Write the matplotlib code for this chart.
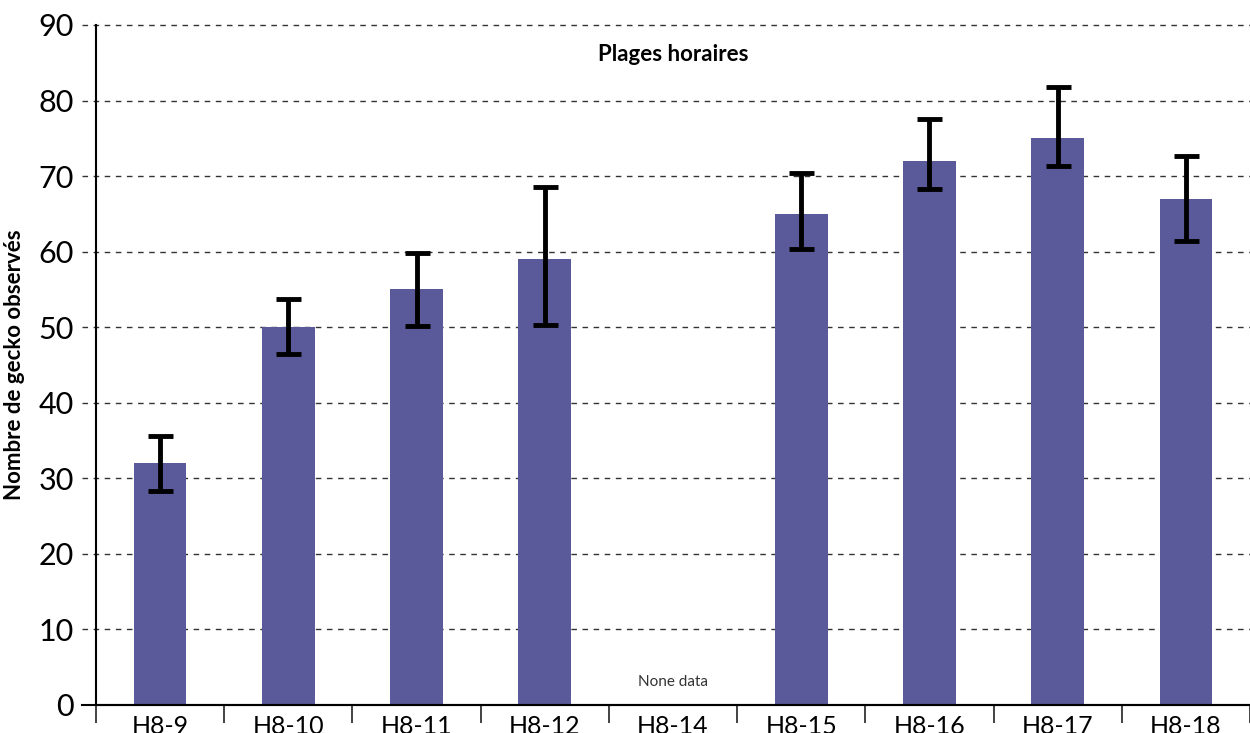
import matplotlib.pyplot as plt
import numpy as np

# donnees
plages = ["H8-9", "H8-10", "H8-11", "H8-12", "H8-14", "H8-15", "H8-16", "H8-17", "H8-18"]
nb_gecko = [32, 50, 55, 59, np.nan, 65, 72, 75, 67]
err_bas = [3.7, 3.5, 4.8, 8.7, np.nan, 4.7, 3.7, 3.7, 5.6]
err_haut = [3.6, 3.7, 4.8, 9.6, np.nan, 5.4, 5.6, 6.8, 5.7]
yticks = [0, 10, 20, 30, 40, 50, 60, 70, 80, 90]

plt.rcParams['font.family'] = ['Lato', 'DejaVu Sans']

fig = plt.figure(figsize=(12.5, 7.33), dpi=100)
ax = fig.add_axes([0.0768, 0.0382, 0.9232, 0.9277])

x = np.arange(len(plages))
vals = np.array(nb_gecko, dtype=float)
ok = ~np.isnan(vals)
ax.bar(x[ok], vals[ok], width=0.41, color='#5a5a9b', zorder=2)
ax.errorbar(x[ok], vals[ok],
            yerr=[np.array(err_bas)[ok], np.array(err_haut)[ok]],
            fmt='none', ecolor='black', elinewidth=3.5, capsize=9, capthick=3.5, zorder=3)

# case sans donnees
for i in np.where(~ok)[0]:
    ax.text(x[i], 3, "None data", ha='center', va='center', fontsize=11, color='#333333')

ax.set_xlim(-0.5, len(plages) - 0.5)
ax.set_ylim(0, 90)

# grille pointillee qui depasse a gauche de l'axe
for yv in yticks[1:]:
    ax.axhline(yv, xmin=-0.012, xmax=1, color='#333333', linestyle=(0, (4, 4)),
               linewidth=1, clip_on=False, zorder=1)
ax.axhline(0, xmin=-0.012, xmax=1, color='black', linewidth=1.5, clip_on=False, zorder=4)

ax.set_yticks(yticks)
ax.tick_params(axis='y', length=0, labelsize=22, pad=16)
ax.set_xticks(x)
ax.set_xticklabels(plages)
ax.set_xticks(np.arange(len(plages) + 1) - 0.5, minor=True)
ax.tick_params(axis='x', which='major', length=0, labelsize=18, pad=7)
ax.tick_params(axis='x', which='minor', length=13, width=1.2, color='#222222')

for s in ['top', 'right']:
    ax.spines[s].set_visible(False)
ax.spines['left'].set_linewidth(1.5)
ax.spines['bottom'].set_linewidth(1.5)

ax.set_ylabel("Nombre de gecko observés", fontsize=16, fontweight='bold', labelpad=10)
ax.text(0.5, 0.957, "Plages horaires", transform=ax.transAxes, ha='center', va='center',
        fontsize=16, fontweight='bold')

fig.savefig("out.png", dpi=100)
